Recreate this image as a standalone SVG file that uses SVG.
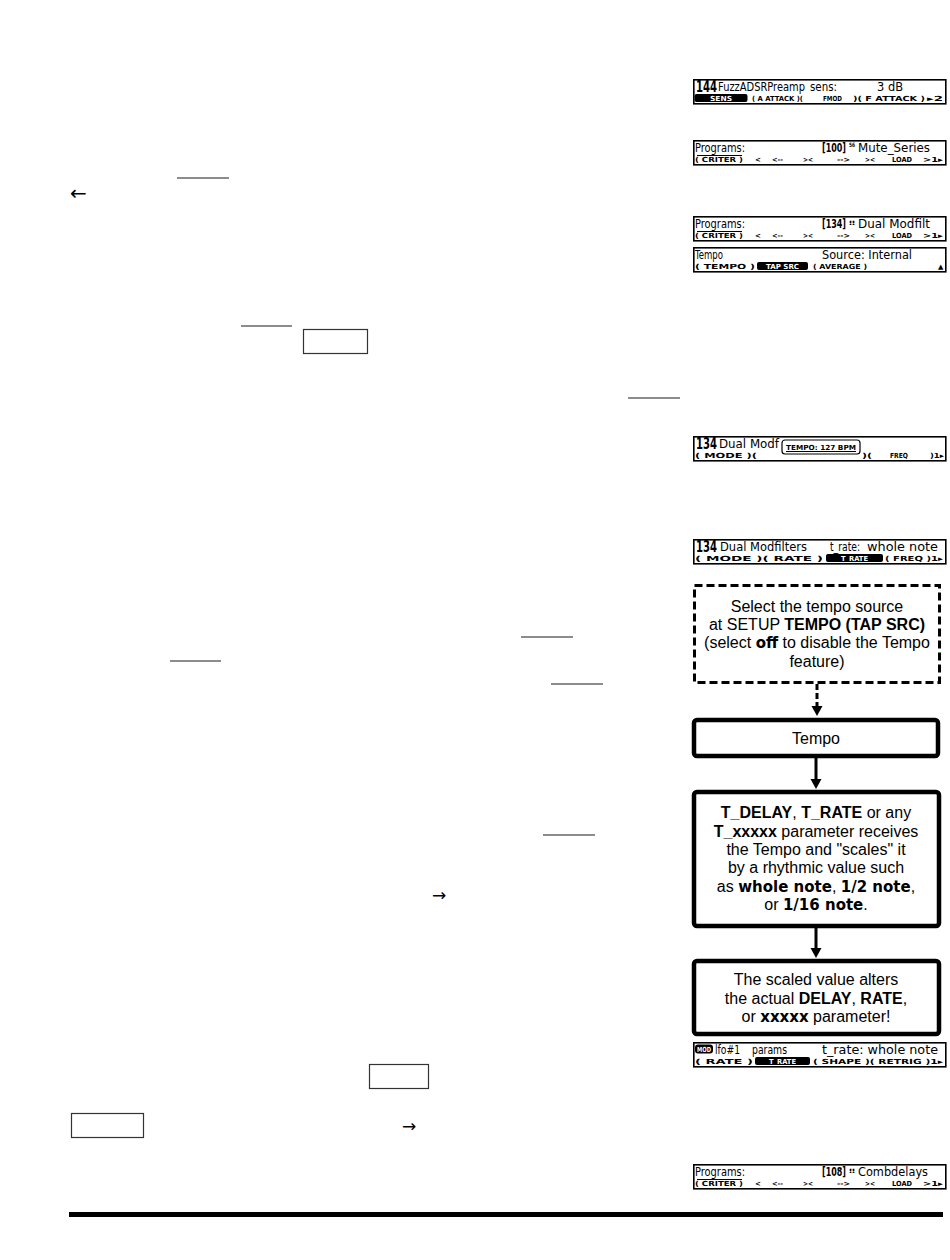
<svg xmlns="http://www.w3.org/2000/svg" width="950" height="1260" viewBox="0 0 950 1260">
<style>
.frame{fill:#fff;stroke:#000;stroke-width:1.6}
.lt{font-family:"DejaVu Sans",sans-serif;font-size:12.5px;fill:#000}
.ln{font-family:"DejaVu Sans",sans-serif;font-size:15px;font-weight:bold;fill:#000}
.lb{font-family:"DejaVu Sans",sans-serif;font-size:7px;font-weight:bold;fill:#000}
.lbw{fill:#fff}
.pill{fill:#000}
.ul{stroke:#666;stroke-width:1.5}
.kb{fill:#fff;stroke:#333;stroke-width:1.2}
.sym{font-family:"DejaVu Sans",sans-serif;fill:#000}
.fb{fill:#fff;stroke:#000;stroke-width:4.5}
.fbd{fill:#fff;stroke:#000;stroke-width:3;stroke-dasharray:8,4}
.ft{font-family:"Liberation Sans",Arial,sans-serif;font-size:16px;fill:#000;text-anchor:middle}
.b{font-weight:bold}
.v{font-family:"DejaVu Sans",sans-serif;font-weight:bold;font-size:15px}
.sup{font-size:6px;font-weight:bold}
.con{stroke:#000;stroke-width:3;fill:none}
</style>
<defs>
<marker id="ah" markerWidth="12" markerHeight="12" refX="4" refY="6" orient="auto" markerUnits="userSpaceOnUse">
<path d="M0,0.5 L10,6 L0,11.5 Z" fill="#000"/>
</marker>
</defs>

<!-- left column marks -->
<g id="marks">
<line class="ul" x1="177" y1="178" x2="229" y2="178"/>
<text class="sym" x="70" y="200" font-size="20">←</text>
<line class="ul" x1="241" y1="326" x2="292" y2="326"/>
<rect class="kb" x="303.5" y="329.5" width="64" height="24"/>
<line class="ul" x1="628" y1="398" x2="680" y2="398"/>
<line class="ul" x1="521" y1="637" x2="573" y2="637"/>
<line class="ul" x1="170" y1="661" x2="221" y2="661"/>
<line class="ul" x1="551" y1="684" x2="603" y2="684"/>
<line class="ul" x1="543" y1="835" x2="595" y2="835"/>
<text class="sym" x="432" y="901" font-size="17">→</text>
<rect class="kb" x="369.5" y="1064.5" width="59" height="24"/>
<rect class="kb" x="71.5" y="1113.5" width="72" height="24"/>
<text class="sym" x="402" y="1132" font-size="17">→</text>
<rect x="69" y="1212" width="874" height="5" fill="#000"/>
</g>

<!-- LCD 1 -->
<g id="lcd1" transform="translate(693,79)">
<rect class="frame" x="0.8" y="0.8" width="252" height="24"/>
<text class="ln" x="3" y="12.5" textLength="21" lengthAdjust="spacingAndGlyphs">144</text>
<text class="lt" x="25" y="12" textLength="87" lengthAdjust="spacingAndGlyphs">FuzzADSRPreamp</text>
<text class="lt" x="117" y="12" textLength="27" lengthAdjust="spacingAndGlyphs">sens:</text>
<text class="lt" x="184" y="12" textLength="26" lengthAdjust="spacingAndGlyphs">3 dB</text>
<rect class="pill" x="1.5" y="15" width="53" height="8" rx="2"/>
<text class="lb lbw" x="17" y="22" textLength="22" lengthAdjust="spacingAndGlyphs">SENS</text>
<text class="lb" x="59" y="22" textLength="51" lengthAdjust="spacingAndGlyphs">( A ATTACK )(</text>
<text class="lb" x="130" y="22" textLength="19" lengthAdjust="spacingAndGlyphs">FMOD</text>
<text class="lb" x="160" y="22" textLength="72" lengthAdjust="spacingAndGlyphs">)( F ATTACK )</text>
<text class="lb" x="234" y="22" textLength="16" lengthAdjust="spacingAndGlyphs">▸2</text>
</g>

<!-- LCD 2 -->
<g id="lcd2" transform="translate(693,140)">
<rect class="frame" x="0.8" y="0.8" width="252" height="24"/>
<text class="lt" x="2" y="12" textLength="50" lengthAdjust="spacingAndGlyphs">Programs:</text>
<text class="lt" y="12"><tspan class="b" x="129" textLength="24" lengthAdjust="spacingAndGlyphs">[100]</tspan><tspan class="sup" x="156" y="7" textLength="6" lengthAdjust="spacingAndGlyphs">56</tspan><tspan x="165" y="12" textLength="72" lengthAdjust="spacingAndGlyphs">Mute_Series</tspan></text>
<line x1="4" y1="15.5" x2="49" y2="15.5" stroke="#000" stroke-width="1"/>
<text class="lb" x="2" y="22" textLength="48" lengthAdjust="spacingAndGlyphs">( CRITER )</text>
<text class="lb" x="62" y="22">&lt;</text>
<text class="lb" x="79" y="22" textLength="11" lengthAdjust="spacingAndGlyphs">&lt;--</text>
<text class="lb" x="110" y="22" textLength="10" lengthAdjust="spacingAndGlyphs">&gt;&lt;</text>
<text class="lb" x="144" y="22" textLength="13" lengthAdjust="spacingAndGlyphs">--&gt;</text>
<text class="lb" x="172" y="22" textLength="10" lengthAdjust="spacingAndGlyphs">&gt;&lt;</text>
<text class="lb" x="199" y="22" textLength="20" lengthAdjust="spacingAndGlyphs">LOAD</text>
<text class="lb" x="230" y="22" textLength="20" lengthAdjust="spacingAndGlyphs">&gt;1▸</text>
</g>

<!-- LCD 3 -->
<g id="lcd3" transform="translate(693,216)">
<rect class="frame" x="0.8" y="0.8" width="252" height="24"/>
<text class="lt" x="2" y="12" textLength="50" lengthAdjust="spacingAndGlyphs">Programs:</text>
<text class="lt" y="12"><tspan class="b" x="129" textLength="24" lengthAdjust="spacingAndGlyphs">[134]</tspan><tspan class="sup" x="156" y="9" textLength="6" lengthAdjust="spacingAndGlyphs">‼</tspan><tspan x="165" y="12" textLength="72" lengthAdjust="spacingAndGlyphs">Dual Modfilt</tspan></text>
<line x1="4" y1="15.5" x2="49" y2="15.5" stroke="#000" stroke-width="1"/>
<text class="lb" x="2" y="22" textLength="48" lengthAdjust="spacingAndGlyphs">( CRITER )</text>
<text class="lb" x="62" y="22">&lt;</text>
<text class="lb" x="79" y="22" textLength="11" lengthAdjust="spacingAndGlyphs">&lt;--</text>
<text class="lb" x="110" y="22" textLength="10" lengthAdjust="spacingAndGlyphs">&gt;&lt;</text>
<text class="lb" x="144" y="22" textLength="13" lengthAdjust="spacingAndGlyphs">--&gt;</text>
<text class="lb" x="172" y="22" textLength="10" lengthAdjust="spacingAndGlyphs">&gt;&lt;</text>
<text class="lb" x="199" y="22" textLength="20" lengthAdjust="spacingAndGlyphs">LOAD</text>
<text class="lb" x="230" y="22" textLength="20" lengthAdjust="spacingAndGlyphs">&gt;1▸</text>
</g>

<!-- LCD 4 -->
<g id="lcd4" transform="translate(693,247)">
<rect class="frame" x="0.8" y="0.8" width="252" height="24"/>
<text class="lt" x="2" y="12" textLength="28" lengthAdjust="spacingAndGlyphs">Tempo</text>
<text class="lt" x="129" y="12" textLength="90" lengthAdjust="spacingAndGlyphs">Source: Internal</text>
<text class="lb" x="2" y="22" textLength="60" lengthAdjust="spacingAndGlyphs">(  TEMPO  )</text>
<rect class="pill" x="64" y="15" width="51" height="8" rx="2"/>
<text class="lb lbw" x="73" y="22" textLength="33" lengthAdjust="spacingAndGlyphs">TAP SRC</text>
<text class="lb" x="120" y="22" textLength="54" lengthAdjust="spacingAndGlyphs">( AVERAGE )</text>
<text class="lb" x="245" y="22" font-size="6">▲</text>
</g>

<!-- LCD 5 -->
<g id="lcd5" transform="translate(693,436)">
<rect class="frame" x="0.8" y="0.8" width="252" height="24"/>
<text class="ln" x="3" y="12.5" textLength="21" lengthAdjust="spacingAndGlyphs">134</text>
<text class="lt" x="26" y="12" textLength="60" lengthAdjust="spacingAndGlyphs">Dual Modf</text>
<text class="lb" x="2" y="22" textLength="62" lengthAdjust="spacingAndGlyphs">(  MODE  )(</text>
<rect x="89" y="4" width="78" height="14" rx="3" fill="#fff" stroke="#000" stroke-width="1.2"/>
<text class="lb" x="93" y="13.5" font-size="7.5" textLength="70" lengthAdjust="spacingAndGlyphs">TEMPO: 127 BPM</text>
<line x1="93" y1="15.5" x2="163" y2="15.5" stroke="#000" stroke-width="1"/>
<text class="lb" x="169" y="22" textLength="10" lengthAdjust="spacingAndGlyphs">)(</text>
<text class="lb" x="197" y="22" textLength="18" lengthAdjust="spacingAndGlyphs">FREQ</text>
<text class="lb" x="237" y="22" textLength="14" lengthAdjust="spacingAndGlyphs">)1▸</text>
</g>

<!-- LCD 6 -->
<g id="lcd6" transform="translate(693,539)">
<rect class="frame" x="0.8" y="0.8" width="252" height="24"/>
<text class="ln" x="3" y="12.5" textLength="21" lengthAdjust="spacingAndGlyphs">134</text>
<text class="lt" x="27" y="12" textLength="87" lengthAdjust="spacingAndGlyphs">Dual Modfilters</text>
<text class="lt" x="137" y="12" textLength="30" lengthAdjust="spacingAndGlyphs">t_rate:</text>
<text class="lt" x="174" y="12" textLength="71" lengthAdjust="spacingAndGlyphs">whole note</text>
<text class="lb" x="2" y="22" textLength="128" lengthAdjust="spacingAndGlyphs">(   MODE   )(   RATE   )</text>
<rect class="pill" x="133" y="15" width="57" height="8" rx="2"/>
<text class="lb lbw" x="148" y="22" textLength="27" lengthAdjust="spacingAndGlyphs">T_RATE</text>
<text class="lb" x="192" y="22" textLength="58" lengthAdjust="spacingAndGlyphs">(   FREQ   )1▸</text>
</g>

<!-- LCD 7 -->
<g id="lcd7" transform="translate(693,1042)">
<rect class="frame" x="0.8" y="0.8" width="252" height="24"/>
<rect class="pill" x="2" y="2.5" width="18" height="9" rx="3"/>
<text class="lb lbw" x="4" y="10" font-size="6.5" textLength="14" lengthAdjust="spacingAndGlyphs">MOD</text>
<text class="lt" x="22" y="12" textLength="25" lengthAdjust="spacingAndGlyphs">lfo#1</text>
<text class="lt" x="59" y="12" textLength="35" lengthAdjust="spacingAndGlyphs">params</text>
<text class="lt" x="129" y="12" textLength="116" lengthAdjust="spacingAndGlyphs">t_rate: whole note</text>
<text class="lb" x="2" y="22" textLength="58" lengthAdjust="spacingAndGlyphs">(   RATE   )</text>
<rect class="pill" x="62" y="15" width="55" height="8" rx="2"/>
<text class="lb lbw" x="76" y="22" textLength="27" lengthAdjust="spacingAndGlyphs">T_RATE</text>
<text class="lb" x="120" y="22" textLength="130" lengthAdjust="spacingAndGlyphs">(  SHAPE  )(  RETRIG  )1▸</text>
</g>

<!-- LCD 8 -->
<g id="lcd8" transform="translate(693,1164)">
<rect class="frame" x="0.8" y="0.8" width="252" height="24"/>
<text class="lt" x="2" y="12" textLength="50" lengthAdjust="spacingAndGlyphs">Programs:</text>
<text class="lt" y="12"><tspan class="b" x="129" textLength="24" lengthAdjust="spacingAndGlyphs">[108]</tspan><tspan class="sup" x="156" y="9" textLength="6" lengthAdjust="spacingAndGlyphs">‼</tspan><tspan x="165" y="12" textLength="70" lengthAdjust="spacingAndGlyphs">Combdelays</tspan></text>
<line x1="4" y1="15.5" x2="49" y2="15.5" stroke="#000" stroke-width="1"/>
<text class="lb" x="2" y="22" textLength="48" lengthAdjust="spacingAndGlyphs">( CRITER )</text>
<text class="lb" x="62" y="22">&lt;</text>
<text class="lb" x="79" y="22" textLength="11" lengthAdjust="spacingAndGlyphs">&lt;--</text>
<text class="lb" x="110" y="22" textLength="10" lengthAdjust="spacingAndGlyphs">&gt;&lt;</text>
<text class="lb" x="144" y="22" textLength="13" lengthAdjust="spacingAndGlyphs">--&gt;</text>
<text class="lb" x="172" y="22" textLength="10" lengthAdjust="spacingAndGlyphs">&gt;&lt;</text>
<text class="lb" x="199" y="22" textLength="20" lengthAdjust="spacingAndGlyphs">LOAD</text>
<text class="lb" x="230" y="22" textLength="20" lengthAdjust="spacingAndGlyphs">&gt;1▸</text>
</g>

<!-- flowchart nodes -->
<g id="node-source">
<rect class="fbd" x="694.5" y="585.5" width="245" height="97"/>
<text class="ft" x="817" y="612">Select the tempo source</text>
<text class="ft" x="817" y="630">at SETUP <tspan class="b">TEMPO (TAP SRC)</tspan></text>
<text class="ft" x="817" y="648">(select <tspan class="v">off</tspan> to disable the Tempo</text>
<text class="ft" x="817" y="667">feature)</text>
</g>
<g id="node-tempo">
<rect class="fb" x="694" y="720" width="244" height="36" rx="3"/>
<text class="ft" x="816" y="744">Tempo</text>
</g>
<g id="node-scale">
<rect class="fb" x="694" y="792" width="245" height="134" rx="3"/>
<text class="ft" x="816" y="818"><tspan class="b">T_DELAY</tspan>, <tspan class="b">T_RATE</tspan> or any</text>
<text class="ft" x="816" y="837"><tspan class="b">T_xxxxx</tspan> parameter receives</text>
<text class="ft" x="816" y="855">the Tempo and "scales" it</text>
<text class="ft" x="816" y="873">by a rhythmic value such</text>
<text class="ft" x="816" y="892">as <tspan class="v">whole note</tspan>, <tspan class="v">1/2 note</tspan>,</text>
<text class="ft" x="816" y="910">or <tspan class="v">1/16 note</tspan>.</text>
</g>
<g id="node-alter">
<rect class="fb" x="694" y="961" width="245" height="73" rx="3"/>
<text class="ft" x="816" y="985">The scaled value alters</text>
<text class="ft" x="816" y="1004">the actual <tspan class="b">DELAY</tspan>, <tspan class="b">RATE</tspan>,</text>
<text class="ft" x="816" y="1022">or <tspan class="v">xxxxx</tspan> parameter!</text>
</g>

<!-- connectors -->
<g id="connectors">
<line class="con" x1="817" y1="684" x2="817" y2="710" stroke-dasharray="6,3" marker-end="url(#ah)"/>
<line class="con" x1="816" y1="758" x2="816" y2="783" marker-end="url(#ah)"/>
<line class="con" x1="816" y1="928" x2="816" y2="952" marker-end="url(#ah)"/>
</g>
</svg>
